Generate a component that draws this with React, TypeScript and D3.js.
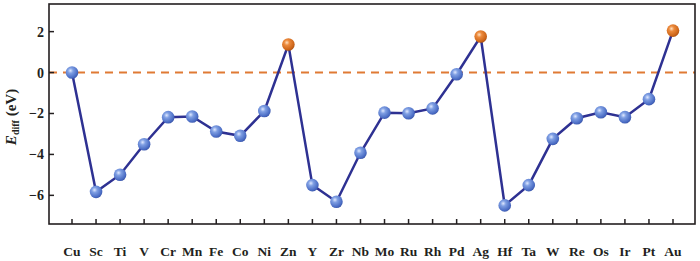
import React from "react";
import * as d3 from "d3";

const elements = ["Cu","Sc","Ti","V","Cr","Mn","Fe","Co","Ni","Zn","Y","Zr","Nb","Mo","Ru","Rh","Pd","Ag","Hf","Ta","W","Re","Os","Ir","Pt","Au"];
const ediff = [0,-5.83,-4.99,-3.5,-2.18,-2.15,-2.88,-3.09,-1.88,1.37,-5.5,-6.31,-3.92,-1.96,-1.99,-1.75,-0.08,1.76,-6.49,-5.5,-3.24,-2.23,-1.94,-2.18,-1.3,2.05];
const yTicks = [-6,-4,-2,0,2];

const W = 700, H = 261;
const left = 49, right = 695, top = 4, bottom = 224;

export default function App() {
  const x = d3.scalePoint<string>().domain(elements).range([72, 673]);
  const y = d3.scaleLinear().domain([-7.4, 3.35]).range([bottom, top]);
  const line = d3.line<number>().x((_, i) => x(elements[i])!).y((d) => y(d));
  const font = "'Liberation Serif', 'Times New Roman', serif";
  return (
    <svg width={W} height={H} style={{ position: "absolute", left: 0, top: 0, background: "#fff" }}>
      <defs>
        <radialGradient id="gb" cx="0.38" cy="0.35" r="0.7">
          <stop offset="0" stopColor="#dfe8ff" />
          <stop offset="0.3" stopColor="#7f9fe3" />
          <stop offset="0.8" stopColor="#4a6cc4" />
          <stop offset="1" stopColor="#3a55a8" />
        </radialGradient>
        <radialGradient id="go" cx="0.38" cy="0.35" r="0.7">
          <stop offset="0" stopColor="#ffe0c0" />
          <stop offset="0.3" stopColor="#ec8a3c" />
          <stop offset="0.8" stopColor="#cc6418" />
          <stop offset="1" stopColor="#a84e10" />
        </radialGradient>
      </defs>
      <line x1={left} x2={right} y1={y(0)} y2={y(0)} stroke="#e07a34" strokeWidth={2} strokeDasharray="8,6" />
      <path d={line(ediff)!} fill="none" stroke="#2e3192" strokeWidth={2.5} />
      {ediff.map((v, i) => (
        <circle key={i} cx={x(elements[i])} cy={y(v)} r={6.3} fill={v > 0.5 ? "url(#go)" : "url(#gb)"} />
      ))}
      <rect x={left} y={top} width={right - left} height={bottom - top} fill="none" stroke="#231f20" strokeWidth={1.6} />
      {elements.map((e) => (
        <g key={e}>
          <line x1={x(e)} x2={x(e)} y1={bottom} y2={bottom - 5} stroke="#231f20" strokeWidth={1.5} />
          <text x={x(e)} y={256} textAnchor="middle" fontFamily={font} fontWeight="bold" fontSize={13.5} fill="#231f20">{e}</text>
        </g>
      ))}
      {yTicks.map((t) => (
        <g key={t}>
          <line x1={left} x2={left + 5} y1={y(t)} y2={y(t)} stroke="#231f20" strokeWidth={1.5} />
          <text x={44} y={y(t) + 5} textAnchor="end" fontFamily={font} fontWeight="bold" fontSize={14} fill="#231f20">{t < 0 ? "\u2212" + Math.abs(t) : t}</text>
        </g>
      ))}
      <text transform={`translate(16,${117}) rotate(-90)`} textAnchor="middle" fontFamily={font} fontWeight="bold" fontSize={15} fill="#231f20">
        <tspan fontStyle="italic">E</tspan>
        <tspan fontSize={10} dy={3}>diff</tspan>
        <tspan dy={-3}> (eV)</tspan>
      </text>
    </svg>
  );
}
